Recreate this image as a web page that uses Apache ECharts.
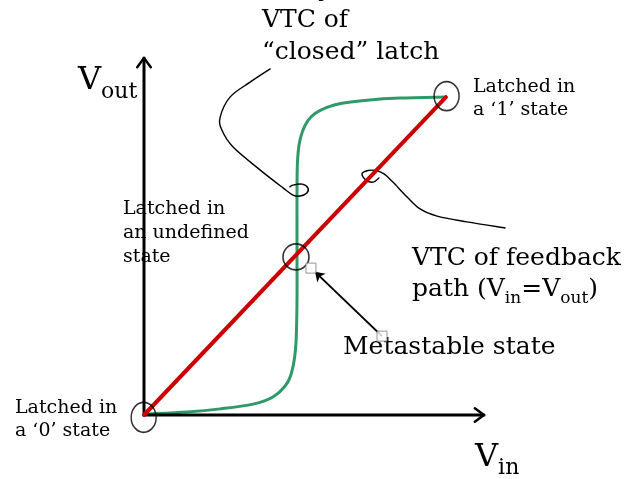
<!DOCTYPE html>
<html><head><meta charset="utf-8">
<script src="https://cdn.jsdelivr.net/npm/echarts@6/dist/echarts.min.js"></script>
<style>html,body{margin:0;padding:0;background:#fff}#c{width:642px;height:479px}</style>
</head><body><div id="c"></div>
<script>
// ---- data (chart units: Vin along x, Vout along y) ----
const xAxisLine = [[0, 0], [10, 0]];
const xArrow = [[9.73, 0.2], [10, 0], [9.73, -0.2]];
const yAxisLine = [[0, 0], [0, 10.5]];
const yArrow = [[-0.2, 10.23], [0, 10.5], [0.2, 10.23]];
const feedbackLine = [[0, 0], [8.88, 9.35]];
const latchVTC = [
  [0.09, 0.03], [1.26, 0.09], [2.24, 0.18], [3.21, 0.32], [3.79, 0.53], [4.21, 0.94],
  [4.38, 1.41], [4.47, 2.12], [4.50, 3.38], [4.50, 4.68], [4.50, 5.74], [4.50, 6.44],
  [4.51, 7.35], [4.56, 7.94], [4.66, 8.34], [4.82, 8.66], [5.05, 8.88], [5.38, 9.05],
  [5.82, 9.17], [6.56, 9.26], [7.53, 9.32], [8.88, 9.35]
];
const closedPointer = [
  [3.71, 10.18], [3.12, 9.79], [2.53, 9.35], [2.24, 8.76], [2.29, 8.38], [2.62, 7.88],
  [3.41, 7.21], [4.09, 6.68], [4.38, 6.47], [4.59, 6.44], [4.79, 6.53], [4.82, 6.68],
  [4.65, 6.79], [4.38, 6.76], [4.29, 6.71]
];
const feedbackPointer = [
  [6.91, 6.97], [6.74, 6.85], [6.53, 6.91], [6.41, 7.09], [6.59, 7.19], [6.82, 7.19],
  [7.06, 7.09], [7.32, 6.85], [7.74, 6.41], [8.12, 6.06], [8.62, 5.85], [9.50, 5.68],
  [10.62, 5.50]
];
const stateCircles = [[-0.01, -0.07], [8.9, 9.38], [4.47, 4.65]];
const metaArrow = [[7.0, 2.32], [5.03, 4.21]];
const handles = [[4.91, 4.32], [7.0, 2.32]];

// ---- styles ----
const circleSizes = [[25, 30], [25, 29], [26, 26]];
const F = 'DejaVu Serif';

function plain(text, x, baseline, size) {
  return { type: 'text', x: x, y: baseline - 0.35 * size, silent: true,
    style: { text: text, font: size + 'px "' + F + '"', fill: '#000',
      textAlign: 'left', textVerticalAlign: 'middle', align: 'left', verticalAlign: 'middle' } };
}
function richText(text, x, top, main, sub, pad) {
  return { type: 'text', x: x, y: top, silent: true,
    style: { text: text, fill: '#000', textAlign: 'left', textVerticalAlign: 'top', align: 'left', verticalAlign: 'top',
      rich: {
        n: { fontFamily: F, fontSize: main, lineHeight: main, verticalAlign: 'top', fill: '#000' },
        s: { fontFamily: F, fontSize: sub, lineHeight: sub, verticalAlign: 'top', padding: [pad, 0, 0, 0], fill: '#000' }
      } } };
}

const lineS = (data, color, width) => ({
  type: 'line', data: data, smooth: false, showSymbol: false, symbol: 'none', clip: false, silent: true,
  lineStyle: { color: color, width: width, cap: 'round', join: 'round' }, animation: false
});

// smooth curve through the data points (Catmull-Rom rendered as cubic Béziers)
const curveS = (data, color, width) => ({
  type: 'custom', data: data, clip: false, silent: true,
  encode: { x: 0, y: 1 },
  renderItem: function (params, api) {
    if (params.dataIndex !== 0) return null;
    const p = data.map(d => api.coord(d));
    const n = p.length;
    let d = 'M' + p[0][0] + ',' + p[0][1];
    for (let i = 0; i < n - 1; i++) {
      const p0 = p[Math.max(i - 1, 0)], p1 = p[i], p2 = p[i + 1], p3 = p[Math.min(i + 2, n - 1)];
      const c1 = [p1[0] + (p2[0] - p0[0]) / 6, p1[1] + (p2[1] - p0[1]) / 6];
      const c2 = [p2[0] - (p3[0] - p1[0]) / 6, p2[1] - (p3[1] - p1[1]) / 6];
      d += 'C' + c1[0] + ',' + c1[1] + ',' + c2[0] + ',' + c2[1] + ',' + p2[0] + ',' + p2[1];
    }
    return { type: 'path', shape: { pathData: d },
      style: { fill: 'none', stroke: color, lineWidth: width, lineCap: 'round', lineJoin: 'round' } };
  }
});

const option = {
  animation: false,
  grid: { left: 110, right: 22, top: 58, bottom: 13 },
  xAxis: { type: 'value', min: -1, max: 14, show: false },
  yAxis: { type: 'value', min: -1.5, max: 10.5, show: false },
  series: [
    lineS(xAxisLine, '#000', 3),
    lineS(yAxisLine, '#000', 3),
    lineS(xArrow, '#000', 2.5),
    lineS(yArrow, '#000', 2.5),
    curveS(latchVTC, '#2f9a68', 3),
    lineS(feedbackLine, '#cc0000', 4),
    curveS(closedPointer, '#000', 1.4),
    curveS(feedbackPointer, '#000', 1.4),
    {
      type: 'scatter', silent: true, clip: false,
      data: stateCircles.map((p, i) => ({ value: p, symbolSize: circleSizes[i] })),
      symbol: 'circle',
      itemStyle: { color: 'rgba(0,0,0,0)', borderColor: '#000', borderWidth: 1.6 }, z: 5
    },
    {
      type: 'lines', coordinateSystem: 'cartesian2d', silent: true,
      data: [{ coords: metaArrow }],
      symbol: ['none', 'arrow'], symbolSize: 9,
      lineStyle: { color: '#000', width: 2, opacity: 1 }, z: 6
    },
    {
      type: 'scatter', silent: true, clip: false, data: handles, symbol: 'rect', symbolSize: 10,
      itemStyle: { color: '#fff', borderColor: '#7a7a7a', borderWidth: 1 }, z: 7
    }
  ],
  graphic: [
    plain('y', 318, -2, 25),
    plain('VTC of', 262, 29, 25),
    plain('\u201cclosed\u201d latch', 262, 61, 25),
    plain('Latched in', 473, 94, 19),
    plain('a \u20181\u2019 state', 473, 117, 19),
    plain('Latched in', 123, 216, 19),
    plain('an undefined', 123, 240, 19),
    plain('state', 123, 264, 19),
    plain('VTC of feedback', 412, 267, 25),
    richText('{n|path (V}{s|in}{n|=V}{s|out}{n|)}', 412, 277, 25, 17, 13.5),
    plain('Metastable state', 343, 356, 25),
    plain('Latched in', 15, 415, 19),
    plain('a \u20180\u2019 state', 15, 438, 19),
    richText('{n|V}{s|out}', 78, 65, 32, 22, 16.5),
    richText('{n|V}{s|in}', 475, 442, 32, 22, 15.5)
  ]
};
const chart = echarts.init(document.getElementById('c'), null, { renderer: 'canvas' });
chart.setOption(option);
</script></body></html>
